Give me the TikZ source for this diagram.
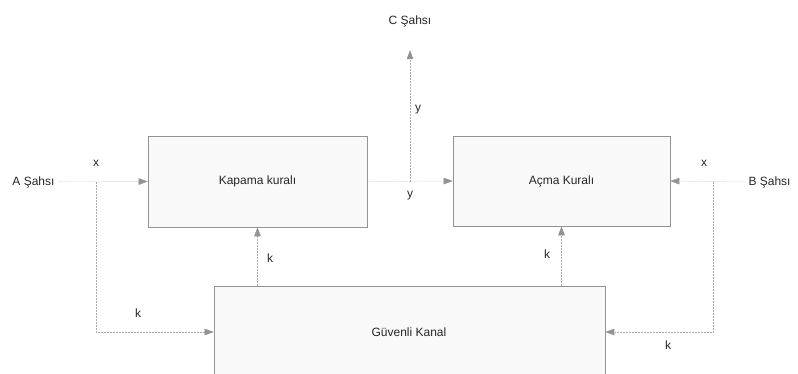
\documentclass[tikz,border=0pt]{standalone}
\usepackage{fontspec}
\setmainfont{Liberation Sans}
\usetikzlibrary{arrows.meta}
\begin{document}
\begin{tikzpicture}[x=1pt,y=-1pt,
  blk/.style={draw=gray!85, line width=0.6pt, fill=gray!5, inner sep=0pt},
  link/.style={draw=gray!65, line width=0.5pt, densely dotted},
  tip/.style={-{Triangle[length=9pt,width=6.5pt,fill=gray!85,color=gray!85]}},
  lbl/.style={font=\fontsize{12}{14}\selectfont, text=black!85},
]
\useasboundingbox (0,0) rectangle (798,374);

% processing blocks
\node[blk, lbl, minimum width=219pt, minimum height=91pt] (kap) at (257.5,181.5) {Kapama kuralı};
\node[blk, lbl, minimum width=217pt, minimum height=90pt] (acma) at (561.5,181) {Açma Kuralı};
\node[blk, minimum width=391pt, minimum height=114pt] (kanal) at (409.5,343) {};
\node[lbl] (kanaltxt) at (409,332) {Güvenli Kanal};

% parties
\node[lbl, anchor=east] (a) at (58,182) {A Şahsı};
\node[lbl, anchor=west] (b) at (745,182) {B Şahsı};
\node[lbl] (c) at (410,21) {C Şahsı};

% branch points
\coordinate (ab) at (96,182);
\coordinate (cb) at (410,182);
\coordinate (bb) at (713,182);

% connectors
\draw[link,tip] (a.east) -- (kap.west);
\draw[link,tip] (ab) |- (kanal.west |- kanaltxt);
\draw[link,tip] (kap.east) -- (acma.west);
\draw[link,tip,shorten >=20pt] (cb) -- (c.south);
\draw[link,tip] (kanal.north -| kap) -- (kap.south);
\draw[link,tip] (kanal.north -| acma) -- (acma.south);
\draw[link,tip] (b.west) -- (acma.east);
\draw[link,tip] (bb) |- (kanal.east |- kanaltxt);

% signal labels
\node[lbl] (lx1) at (96,163) {x};
\node[lbl] (lk1) at (138,313) {k};
\node[lbl] (ly1) at (418,110) {y};
\node[lbl] (ly2) at (410,196) {y};
\node[lbl] (lk2) at (270,258) {k};
\node[lbl] (lk3) at (547,254) {k};
\node[lbl] (lx2) at (704,163) {x};
\node[lbl] (lk4) at (668,345) {k};
\end{tikzpicture}
\end{document}
